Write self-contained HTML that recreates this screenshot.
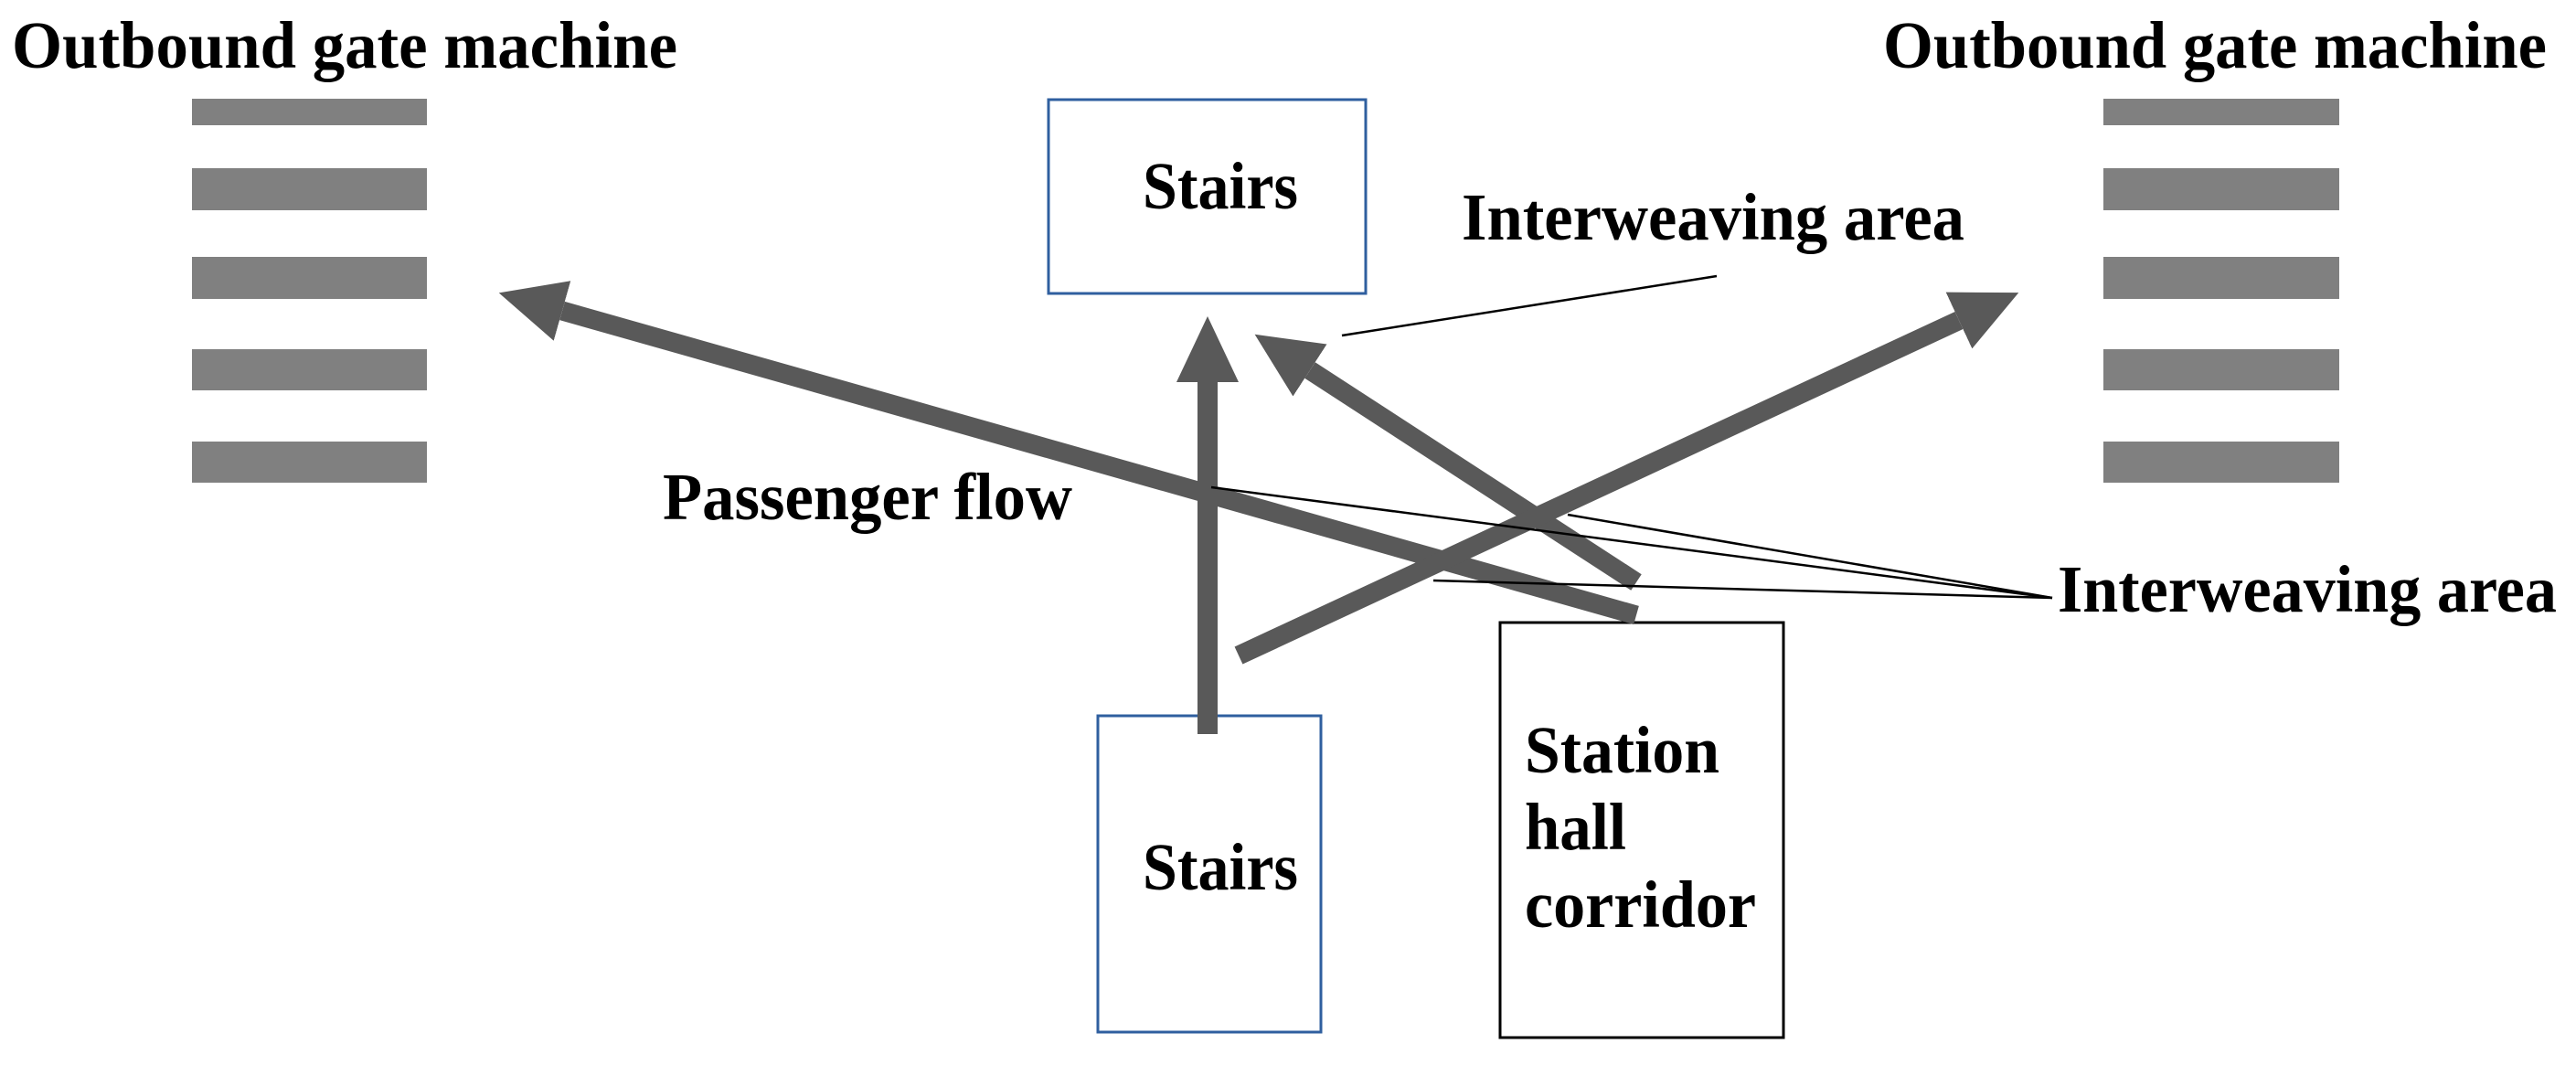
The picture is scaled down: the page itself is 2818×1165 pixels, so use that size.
<!DOCTYPE html>
<html><head><meta charset="utf-8"><style>
html,body{margin:0;padding:0;background:#fff;}
svg{display:block;}
text{font-family:"Liberation Serif",serif;font-weight:bold;font-size:73px;fill:#000;}
</style></head><body>
<svg width="2818" height="1165" viewBox="0 0 2818 1165" xmlns="http://www.w3.org/2000/svg">
<defs>
<marker id="ah" markerUnits="userSpaceOnUse" markerWidth="80" markerHeight="80" refX="0" refY="34" orient="auto">
<path d="M0,0 L72,34 L0,68 Z" fill="#595959"/>
</marker>
</defs>
<rect width="2818" height="1165" fill="#fff"/>
<g fill="#808080">
<rect x="210" y="108" width="257" height="29"/>
<rect x="210" y="184" width="257" height="46"/>
<rect x="210" y="281" width="257" height="46"/>
<rect x="210" y="382" width="257" height="45"/>
<rect x="210" y="483" width="257" height="45"/>
<rect x="2301" y="108" width="258" height="29"/>
<rect x="2301" y="184" width="258" height="46"/>
<rect x="2301" y="281" width="258" height="46"/>
<rect x="2301" y="382" width="258" height="45"/>
<rect x="2301" y="483" width="258" height="45"/>
</g>
<text x="13" y="74" textLength="728" lengthAdjust="spacingAndGlyphs">Outbound gate machine</text>
<text x="2060" y="74" textLength="726" lengthAdjust="spacingAndGlyphs">Outbound gate machine</text>
<rect x="1147" y="109" width="347" height="212" fill="none" stroke="#2f5f9f" stroke-width="3"/>
<text x="1250" y="228" textLength="170" lengthAdjust="spacingAndGlyphs">Stairs</text>
<rect x="1201" y="783" width="244" height="346" fill="none" stroke="#2f5f9f" stroke-width="3"/>
<text x="1250" y="973" textLength="170" lengthAdjust="spacingAndGlyphs">Stairs</text>
<rect x="1641" y="681" width="310" height="454" fill="none" stroke="#000" stroke-width="3"/>
<text x="1668" y="845" textLength="213" lengthAdjust="spacingAndGlyphs">Station</text>
<text x="1668" y="929" textLength="111" lengthAdjust="spacingAndGlyphs">hall</text>
<text x="1668" y="1014" textLength="253" lengthAdjust="spacingAndGlyphs">corridor</text>
<g stroke="#595959" stroke-width="21" fill="none" marker-end="url(#ah)">
<line x1="1790" y1="673" x2="615" y2="340"/>
<line x1="1321" y1="803" x2="1321" y2="418" stroke-width="22"/>
<line x1="1790" y1="637" x2="1433" y2="405"/>
<line x1="1355" y1="717" x2="2143" y2="350.5"/>
</g>
<g stroke="#000" stroke-width="2.5" fill="none">
<line x1="1468" y1="367" x2="1878" y2="302"/>
<line x1="1325" y1="533" x2="2245" y2="654"/>
<line x1="1715" y1="563" x2="2245" y2="654"/>
<line x1="1568" y1="635" x2="2245" y2="654"/>
</g>
<text x="1599" y="262" textLength="550" lengthAdjust="spacingAndGlyphs">Interweaving area</text>
<text x="2251" y="669" textLength="546" lengthAdjust="spacingAndGlyphs">Interweaving area</text>
<text x="725" y="568" textLength="448" lengthAdjust="spacingAndGlyphs">Passenger flow</text>
</svg>
</body></html>
